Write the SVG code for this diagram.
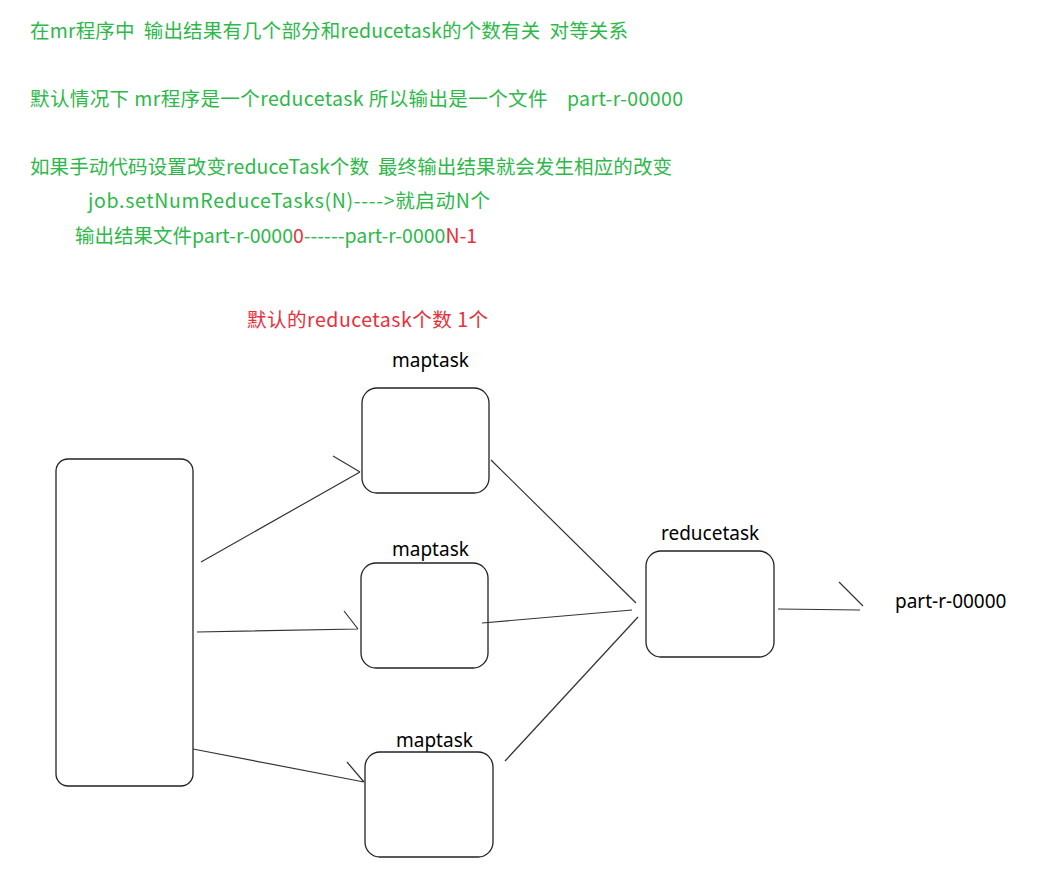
<svg xmlns="http://www.w3.org/2000/svg" width="1043" height="875" viewBox="0 0 1043 875">
<style>
text{white-space:pre}
.g{fill:#2db84a;font-family:"Noto Sans CJK SC","Noto Sans",sans-serif;font-size:19.5px}
.r{fill:#e8303a}
.l{font-family:"Noto Sans","Noto Sans CJK SC",sans-serif;font-size:19px;fill:#000}
.b{fill:#fff;stroke:#222;stroke-width:1.3}
.c path{fill:none;stroke:#333;stroke-width:1.2}
</style>
<rect width="1043" height="875" fill="#fff"/>
<text class="g" x="30" y="38" xml:space="preserve" textLength="598">在mr程序中  输出结果有几个部分和reducetask的个数有关  对等关系</text>
<text class="g" x="30" y="106" xml:space="preserve" textLength="653">默认情况下 mr程序是一个reducetask 所以输出是一个文件    part-r-00000</text>
<text class="g" x="30" y="174" xml:space="preserve" textLength="642">如果手动代码设置改变reduceTask个数  最终输出结果就会发生相应的改变</text>
<text class="g" x="88" y="208" textLength="402">job.setNumReduceTasks(N)----&gt;就启动N个</text>
<text class="g" x="75" y="243">输出结果文件part-r-0000<tspan class="r">0</tspan>------part-r-0000<tspan class="r">N-1</tspan></text>
<text class="g r" x="247" y="327" textLength="241">默认的reducetask个数 1个</text>
<g id="input"><rect class="b" x="56" y="459" width="137" height="327" rx="12"/></g>
<g id="map1"><text class="l" x="392" y="367">maptask</text><rect class="b" x="362" y="388" width="127" height="105" rx="15"/></g>
<g id="map2"><text class="l" x="392" y="556">maptask</text><rect class="b" x="361" y="563" width="127" height="105" rx="15"/></g>
<g id="map3"><text class="l" x="396" y="747">maptask</text><rect class="b" x="365" y="752" width="128" height="105" rx="15"/></g>
<g id="reduce"><text class="l" x="661" y="540">reducetask</text><rect class="b" x="646" y="551" width="128" height="106" rx="15"/></g>
<g id="out"><text class="l" x="895" y="608">part-r-00000</text></g>
<g class="c" id="connectors">
<path d="M201,562 L360,472 M333,456 L360,472"/>
<path d="M197,632 L358,629 M344,611 L358,629"/>
<path d="M193,749 L364,782 M347,762 L364,782"/>
<path d="M491,460 L636,603"/>
<path d="M482,623 L632,610"/>
<path d="M505,761 L638,617"/>
<path d="M778,609 L860,610 M839,582 L863,606"/>
</g>
</svg>
